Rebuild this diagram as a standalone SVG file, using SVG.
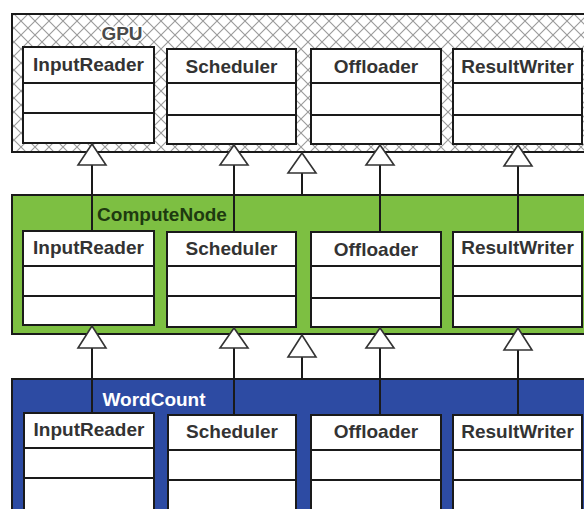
<svg xmlns="http://www.w3.org/2000/svg" width="584" height="509" viewBox="0 0 584 509">
<style>
.cls{fill:#fff;stroke:#1a1a1a;stroke-width:2}
.div{stroke:#1a1a1a;stroke-width:2}
.ct{font-family:"Liberation Sans",Arial,sans-serif;font-weight:bold;font-size:19px;fill:#333;text-anchor:middle}
.pt{font-family:"Liberation Sans",Arial,sans-serif;font-weight:bold;font-size:19px;text-anchor:middle}
.pkg{stroke:#1a1a1a;stroke-width:2}
.ln{stroke:#1a1a1a;stroke-width:2;fill:none}
.tri{fill:#fff;stroke:#333;stroke-width:1.6}
</style>
<defs>
<pattern id="hatch" width="14" height="14" patternUnits="userSpaceOnUse">
<rect width="14" height="14" fill="#fff"/>
<path d="M0,0 L14,14 M14,0 L0,14" stroke="#9a9a9a" stroke-width="1.1"/>
</pattern>
</defs>
<rect width="584" height="509" fill="#fff"/>

<g id="pkg-gpu">
<rect class="pkg" x="12" y="14" width="590" height="138" fill="url(#hatch)"/>
<text class="pt" x="122" y="40" fill="#4a4a4a" stroke="#fff" stroke-width="3" paint-order="stroke">GPU</text>
</g>
<g id="gpu-inputreader">
<rect class="cls" x="23" y="47" width="131" height="96"/>
<line class="div" x1="23" y1="83" x2="154" y2="83"/><line class="div" x1="23" y1="113" x2="154" y2="113"/>
<text class="ct" x="88.5" y="71">InputReader</text>
</g>
<g id="gpu-scheduler">
<rect class="cls" x="167" y="49" width="129" height="95"/>
<line class="div" x1="167" y1="83" x2="296" y2="83"/><line class="div" x1="167" y1="115" x2="296" y2="115"/>
<text class="ct" x="231.5" y="73">Scheduler</text>
</g>
<g id="gpu-offloader">
<rect class="cls" x="311" y="49" width="130" height="95"/>
<line class="div" x1="311" y1="83" x2="441" y2="83"/><line class="div" x1="311" y1="115" x2="441" y2="115"/>
<text class="ct" x="376" y="73">Offloader</text>
</g>
<g id="gpu-resultwriter">
<rect class="cls" x="453" y="49" width="129" height="95"/>
<line class="div" x1="453" y1="83" x2="582" y2="83"/><line class="div" x1="453" y1="115" x2="582" y2="115"/>
<text class="ct" x="517.5" y="73">ResultWriter</text>
</g>

<g id="pkg-computenode">
<rect class="pkg" x="12" y="195" width="590" height="139" fill="#7dbf42"/>
<text class="pt" x="162" y="221" fill="#1e3a10">ComputeNode</text>
</g>
<g id="cn-inputreader">
<rect class="cls" x="23" y="231" width="131" height="94"/>
<line class="div" x1="23" y1="266" x2="154" y2="266"/><line class="div" x1="23" y1="296" x2="154" y2="296"/>
<text class="ct" x="88.5" y="254">InputReader</text>
</g>
<g id="cn-scheduler">
<rect class="cls" x="167" y="232" width="129" height="95"/>
<line class="div" x1="167" y1="266" x2="296" y2="266"/><line class="div" x1="167" y1="296" x2="296" y2="296"/>
<text class="ct" x="231.5" y="255">Scheduler</text>
</g>
<g id="cn-offloader">
<rect class="cls" x="311" y="232" width="130" height="95"/>
<line class="div" x1="311" y1="266" x2="441" y2="266"/><line class="div" x1="311" y1="298" x2="441" y2="298"/>
<text class="ct" x="376" y="256">Offloader</text>
</g>
<g id="cn-resultwriter">
<rect class="cls" x="453" y="232" width="129" height="95"/>
<line class="div" x1="453" y1="266" x2="582" y2="266"/><line class="div" x1="453" y1="296" x2="582" y2="296"/>
<text class="ct" x="517.5" y="254">ResultWriter</text>
</g>

<g id="pkg-wordcount">
<rect class="pkg" x="12" y="379" width="590" height="145" fill="#2d4ba3"/>
<text class="pt" x="154" y="406" fill="#fff">WordCount</text>
</g>
<g id="wc-inputreader">
<rect class="cls" x="24" y="413" width="130" height="110"/>
<line class="div" x1="24" y1="448" x2="154" y2="448"/><line class="div" x1="24" y1="478" x2="154" y2="478"/>
<text class="ct" x="89" y="436">InputReader</text>
</g>
<g id="wc-scheduler">
<rect class="cls" x="168" y="415" width="128" height="110"/>
<line class="div" x1="168" y1="450" x2="296" y2="450"/><line class="div" x1="168" y1="480" x2="296" y2="480"/>
<text class="ct" x="232" y="438">Scheduler</text>
</g>
<g id="wc-offloader">
<rect class="cls" x="311" y="415" width="130" height="110"/>
<line class="div" x1="311" y1="450" x2="441" y2="450"/><line class="div" x1="311" y1="480" x2="441" y2="480"/>
<text class="ct" x="376" y="438">Offloader</text>
</g>
<g id="wc-resultwriter">
<rect class="cls" x="453" y="415" width="129" height="110"/>
<line class="div" x1="453" y1="450" x2="582" y2="450"/><line class="div" x1="453" y1="480" x2="582" y2="480"/>
<text class="ct" x="517.5" y="438">ResultWriter</text>
</g>

<g id="connectors">
<line class="ln" x1="92" y1="165" x2="92" y2="231"/>
<line class="ln" x1="234" y1="165" x2="234" y2="232"/>
<line class="ln" x1="302" y1="173" x2="302" y2="195"/>
<line class="ln" x1="380" y1="165" x2="380" y2="232"/>
<line class="ln" x1="518" y1="166" x2="518" y2="232"/>
<polygon class="tri" points="92,144 78,165 106,165"/>
<polygon class="tri" points="234,145 220,165 248,165"/>
<polygon class="tri" points="302,153 288,173 316,173"/>
<polygon class="tri" points="380,145 366,165 394,165"/>
<polygon class="tri" points="518,145 504,166 532,166"/>

<line class="ln" x1="92" y1="348" x2="92" y2="413"/>
<line class="ln" x1="234" y1="348" x2="234" y2="415"/>
<line class="ln" x1="302" y1="357" x2="302" y2="379"/>
<line class="ln" x1="380" y1="348" x2="380" y2="415"/>
<line class="ln" x1="518" y1="350" x2="518" y2="415"/>
<polygon class="tri" points="92,326 78,348 106,348"/>
<polygon class="tri" points="234,328 220,348 248,348"/>
<polygon class="tri" points="302,335 288,357 316,357"/>
<polygon class="tri" points="380,328 366,348 394,348"/>
<polygon class="tri" points="518,328 504,350 532,350"/>
</g>
</svg>
